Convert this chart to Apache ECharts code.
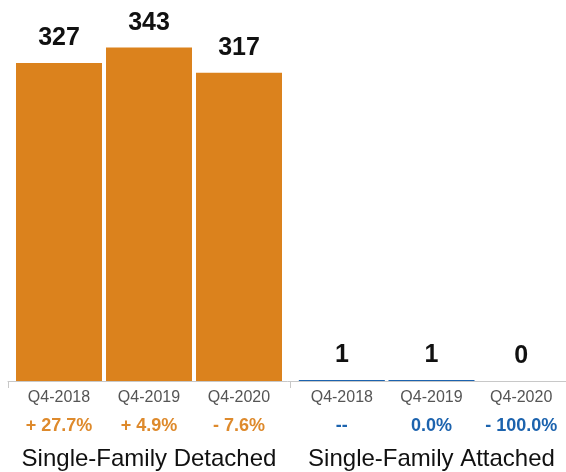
<!DOCTYPE html>
<html>
<head>
<meta charset="utf-8">
<script src="https://cdn.jsdelivr.net/npm/echarts@6/dist/echarts.min.js"></script>
<style>
html,body{margin:0;padding:0;background:#fff;}
#chart{width:566px;height:472px;}
</style>
</head>
<body>
<div id="chart"></div>
<script>
const categories = ['Q4-2018', 'Q4-2019', 'Q4-2020'];
const detachedValues = [327, 343, 317];
const attachedValues = [1, 1, 0];
const detachedChange = ['+ 27.7%', '+ 4.9%', '- 7.6%'];
const attachedChange = ['--', '0.0%', '- 100.0%'];
const groupNames = ['Single-Family Detached', 'Single-Family Attached'];

const ORANGE = '#DB821D';
const ORANGE_TXT = '#DE8A2C';
const BLUE = '#1C63AE';
const FONT = '"Liberation Sans", Arial, Helvetica, sans-serif';

const chart = echarts.init(document.getElementById('chart'));

function catAxis(gridIndex, name, changes, pctColor) {
  return {
    type: 'category',
    gridIndex: gridIndex,
    data: categories,
    axisLine: { show: false },
    axisTick: { show: false },
    axisLabel: {
      margin: 6,
      interval: 0,
      fontFamily: FONT,
      formatter: function (v, i) { return '{c|' + v + '}\n{p|' + changes[i] + '}'; },
      rich: {
        c: { fontSize: 16, color: '#555555', lineHeight: 21, fontFamily: FONT },
        p: { fontSize: 18, fontWeight: 'bold', color: pctColor, lineHeight: 36, fontFamily: FONT }
      }
    },
    name: name,
    nameLocation: 'middle',
    nameGap: 66,
    nameTextStyle: { fontSize: 24, color: '#111', fontFamily: FONT }
  };
}

function valAxis(gridIndex) {
  return { type: 'value', gridIndex: gridIndex, min: 0, max: 380, show: false, splitLine: { show: false } };
}

function barSeries(idx, values, color) {
  return {
    type: 'bar',
    xAxisIndex: idx,
    yAxisIndex: idx,
    data: values,
    barWidth: 86,
    itemStyle: { color: color },
    label: {
      show: true,
      position: 'top',
      distance: 12,
      fontSize: 25,
      fontWeight: 'bold',
      color: '#111',
      fontFamily: FONT
    },
    silent: true
  };
}

chart.setOption({
  animation: false,
  grid: [
    { left: 14, width: 270, top: 11.4, bottom: 91, outerBoundsMode: 'none', containLabel: false },
    { left: 297, width: 269, top: 11.4, bottom: 91, outerBoundsMode: 'none', containLabel: false },
    { left: 8, width: 564, top: 11.4, bottom: 91, outerBoundsMode: 'none', containLabel: false }
  ],
  xAxis: [
    catAxis(0, groupNames[0], detachedChange, ORANGE_TXT),
    catAxis(1, groupNames[1], attachedChange, BLUE),
    {
      type: 'category', gridIndex: 2, data: ['', ''],
      axisLine: { show: true, lineStyle: { color: '#c8c8c8', width: 1 } },
      axisTick: { show: true, length: 7, lineStyle: { color: '#c8c8c8' } },
      axisLabel: { show: false }
    }
  ],
  yAxis: [valAxis(0), valAxis(1), valAxis(2)],
  series: [
    barSeries(0, detachedValues, ORANGE),
    barSeries(1, attachedValues, BLUE)
  ]
});
</script>
</body>
</html>
